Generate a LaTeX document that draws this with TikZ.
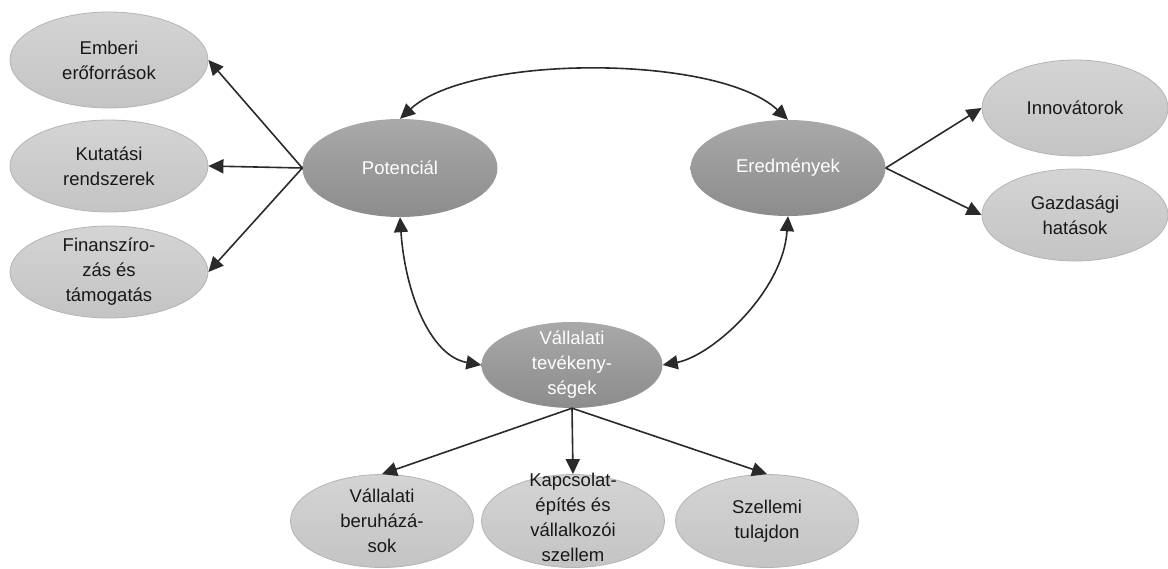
\documentclass[tikz,border=0pt]{standalone}
\usepackage{fontspec}
\setmainfont{Liberation Sans}
\usetikzlibrary{shapes.geometric,arrows.meta}
\definecolor{lightTop}{HTML}{D4D4D4}
\definecolor{lightBot}{HTML}{C4C4C4}
\definecolor{lightEdge}{HTML}{B4B4B4}
\definecolor{darkTop}{HTML}{A9A9A9}
\definecolor{darkBot}{HTML}{8C8C8C}
\definecolor{linecol}{HTML}{2A2A2A}
\tikzset{
  blob/.style={ellipse, inner sep=0pt, minimum width=#1},
  lightblob/.style={blob=#1, top color=lightTop, bottom color=lightBot, draw=lightEdge, line width=0.8pt},
  darkblob/.style={blob=#1, top color=darkTop, bottom color=darkBot},
  ltxt/.style={align=center, font=\fontsize{18.5}{25}\selectfont, text=black!90},
  dtxt/.style={align=center, font=\fontsize{18.5}{25}\selectfont, text=white},
  link/.style={draw=linecol, line width=1.6pt, -{Triangle[length=15pt,width=14pt]}},
  dlink/.style={draw=linecol, line width=1.6pt, {Triangle[length=15pt,width=14pt]}-{Triangle[length=15pt,width=14pt]}},
}
\begin{document}
\begin{tikzpicture}[x=1pt,y=-1pt]
\useasboundingbox (0,0) rectangle (1168,569);

% resource side
\node[lightblob=198pt, minimum height=96pt] (emb) at (109,60) {};
\node[ltxt] (embT) at (emb) {Emberi\\erőforrások};
\node[lightblob=198pt, minimum height=92pt] (kut) at (109,166) {};
\node[ltxt] (kutT) at (kut) {Kutatási\\rendszerek};
\node[lightblob=198pt, minimum height=92pt] (fin) at (109,272) {};
\node[ltxt] (finT) at (fin) {Finanszíro-\\zás és\\támogatás};

% core
\node[darkblob=195pt, minimum height=98pt] (pot) at (400,168) {};
\node[dtxt] (potT) at (pot) {Potenciál};
\node[darkblob=195pt, minimum height=96pt] (ere) at (788,168) {};
\node[dtxt] (ereT) at (ere) {Eredmények};
\node[darkblob=181pt, minimum height=86pt] (val) at (572,365) {};
\node[dtxt] (valT) at (val) {Vállalati\\tevékeny-\\ségek};

% outcome side
\node[lightblob=186pt, minimum height=96pt] (inn) at (1075,108) {};
\node[ltxt] (innT) at (inn) {Innovátorok};
\node[lightblob=186pt, minimum height=92pt] (gaz) at (1075,215) {};
\node[ltxt] (gazT) at (gaz) {Gazdasági\\hatások};

% activities
\node[lightblob=183pt, minimum height=93pt] (ber) at (382,521) {};
\node[ltxt] (berT) at (ber) {Vállalati\\beruházá-\\sok};
\node[lightblob=183pt, minimum height=93pt] (kap) at (573,521) {};
\node[ltxt] (kapT) at ([yshift=4pt]kap) {Kapcsolat-\\építés és\\vállalkozói\\szellem};
\node[lightblob=183pt, minimum height=93pt] (sze) at (767,521) {};
\node[ltxt] (szeT) at (sze) {Szellemi\\tulajdon};

% connectors
\draw[link] (pot.west) -- (emb.east);
\draw[link] (pot.west) -- (kut.east);
\draw[link] (pot.west) -- (fin.east);
\draw[dlink] (pot.north) .. controls (470,54) and (718,54) .. (ere.north);
\draw[dlink] (pot.south) .. controls (405,292) and (430,356) .. (val.west);
\draw[dlink] (ere.south) .. controls (783,292) and (712,356) .. (val.east);
\draw[link] (ere.east) -- (inn.west);
\draw[link] (ere.east) -- (gaz.west);
\draw[link] (val.south) -- (ber.north);
\draw[link] (val.south) -- (kap.north);
\draw[link] (val.south) -- (sze.north);
\end{tikzpicture}
\end{document}
